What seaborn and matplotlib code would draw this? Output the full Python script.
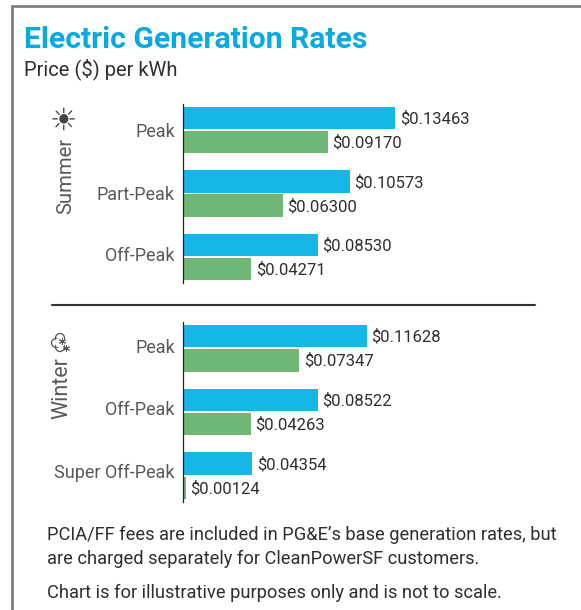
import matplotlib
matplotlib.use("Agg")
import matplotlib.pyplot as plt
from matplotlib.lines import Line2D
from matplotlib.patches import Circle, Rectangle
from matplotlib.transforms import IdentityTransform
import pandas as pd
import seaborn as sns

# datos del grafico
summer_periods = ["Peak", "Part-Peak", "Off-Peak"]
summer_blue = [0.13463, 0.10573, 0.08530]
summer_green = [0.09170, 0.06300, 0.04271]

winter_periods = ["Peak", "Off-Peak", "Super Off-Peak"]
winter_blue = [0.11628, 0.08522, 0.04354]
winter_green = [0.07347, 0.04263, 0.00124]

BLUE = "#15b7e6"
GREEN = "#6eb776"
W, H = 581, 610
X0 = 184
PITCH = 63.5  # px entre categorias
FONT = "Roboto"

sns.set_theme(style="white")
plt.rcParams["font.family"] = [FONT, "DejaVu Sans"]

fig = plt.figure(figsize=(W / 100, H / 100), dpi=100)


def px_axes(left, top, right, bottom):
    return fig.add_axes([left / W, 1 - bottom / H, (right - left) / W, (bottom - top) / H])


def draw_group(ax, periods, blue, green, label_shift):
    df = pd.DataFrame({
        "period": periods * 2,
        "price": blue + green,
        "kind": ["blue"] * 3 + ["green"] * 3,
    })
    sns.barplot(data=df, x="price", y="period", hue="kind", order=periods,
                palette={"blue": BLUE, "green": GREEN}, width=0.756, gap=0.06,
                legend=False, ax=ax, orient="h", saturation=1, linewidth=0)
    for cont in ax.containers:
        for t in ax.bar_label(cont, fmt="$%.5f", padding=3.3, fontsize=12, color="#2f2f2f"):
            t.xyann = (t.xyann[0], -0.7)
    ax.set_xlim(0, (W - X0) / 1570)
    ax.set_ylim(2.41, -0.41)
    ax.set_xlabel("")
    ax.set_ylabel("")
    ax.set_xticks([])
    # las etiquetas van un poco por encima del centro de las barras
    ax.set_yticks([i - dy / PITCH for i, dy in enumerate(label_shift)], periods)
    ax.patch.set_alpha(0)
    ax.tick_params(axis="y", length=0, pad=6, labelsize=13, labelcolor="#58595b")
    sns.despine(ax=ax, left=False, top=True, right=True, bottom=True)
    ax.spines["left"].set_color("#222222")
    ax.spines["left"].set_linewidth(0.9)
    ax.spines["left"].set_position(("outward", 0.6))


ax_s = px_axes(X0, 104, W, 283)
draw_group(ax_s, summer_periods, summer_blue, summer_green, [0, 1, 3])
ax_w = px_axes(X0, 322, W, 502)
draw_group(ax_w, winter_periods, winter_blue, winter_green, [2, 4, 5])


def ftext(x, y, s, **kw):
    return fig.text(x / W, 1 - y / H, s, **kw)


def px_circle(x, y, r, **kw):
    fig.add_artist(Circle((x, H - y), r, transform=IdentityTransform(), **kw))


# marco gris
fig.add_artist(Rectangle((11.5 / W, -0.05), 1.1, 1 - 6 / H + 0.05, transform=fig.transFigure,
                         facecolor="none", edgecolor="#7a7a7a", linewidth=1.9))

# linea que separa verano e invierno
fig.add_artist(Line2D([52 / W, 535 / W], [1 - 305 / H] * 2, transform=fig.transFigure,
                      color="#333333", linewidth=1.5))

ftext(24, 40.5, "Electric Generation Rates", fontsize=21.7, fontweight="bold",
      color="#0aa9e0", va="center", ha="left")
ftext(24, 69, "Price ($) per kWh", fontsize=14.5, color="#2f2f2f", va="center", ha="left")

ftext(66, 176, "Summer", rotation=90, fontsize=14.6, color="#58595b", va="center", ha="center")
ftext(62, 388, "Winter", rotation=90, fontsize=15.5, color="#58595b", va="center", ha="center")

# iconos
ftext(63, 121, "☀", family="DejaVu Sans", fontsize=22, fontweight="bold", color="#444444",
      va="center", ha="center")
for cx, cy, r in [(60, 338, 4.5), (56, 343, 4.5), (60, 347, 4.5)]:
    px_circle(cx, cy, r, facecolor="none", edgecolor="#555555", linewidth=0.9)
px_circle(60, 342.5, 5, facecolor="white", edgecolor="none")
for fx, fy in [(62, 341), (66, 348)]:
    fig.add_artist(Line2D([fx / W], [1 - fy / H], transform=fig.transFigure, marker=(6, 2, 0),
                          markersize=5, markeredgewidth=0.7, color="#555555", linestyle="none"))

ftext(47, 535, "PCIA/FF fees are included in PG&E’s base generation rates, but",
      fontsize=13.15, color="#2f2f2f", va="center", ha="left")
ftext(47, 559, "are charged separately for CleanPowerSF customers.",
      fontsize=13.15, color="#2f2f2f", va="center", ha="left")
ftext(47, 593, "Chart is for illustrative purposes only and is not to scale.",
      fontsize=13.15, color="#2f2f2f", va="center", ha="left")

fig.savefig("out.png", dpi=100)
